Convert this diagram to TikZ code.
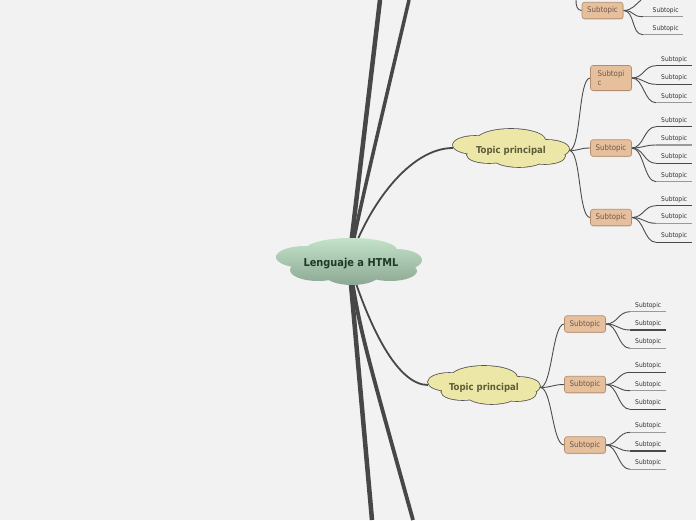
\documentclass[tikz,border=0pt]{standalone}
\usepackage{fontspec}
\setmainfont{DejaVu Sans Condensed}
\usetikzlibrary{shadows}
\pgfdeclarelayer{back}
\pgfdeclarelayer{clouds}
\pgfsetlayers{back,clouds,main}
\definecolor{bg}{HTML}{F2F2F2}
\definecolor{cloudtop}{HTML}{C4E2C9}
\definecolor{cloudbot}{HTML}{8CA894}
\definecolor{centraltext}{HTML}{1E3A26}
\definecolor{topicfill}{HTML}{ECE7A6}
\definecolor{topicline}{HTML}{555555}
\definecolor{topictext}{HTML}{5E5B3A}
\definecolor{subfill}{HTML}{E6C09C}
\definecolor{subline}{HTML}{B48C6C}
\definecolor{subtext}{HTML}{6E5848}
\definecolor{leaftext}{HTML}{333333}
\definecolor{trunkcol}{HTML}{474747}
\definecolor{twigcol}{HTML}{4D4D4D}
\definecolor{uldark}{HTML}{4A4A4A}
\definecolor{ullight}{HTML}{999999}
\def\centrallobes{(2,-12) ellipse [x radius=46, y radius=12]
  (-44,-5) ellipse [x radius=29, y radius=11]
  (47,-2) ellipse [x radius=26, y radius=11]
  (-31,8) ellipse [x radius=28, y radius=11]
  (3,12) ellipse [x radius=28, y radius=11]
  (41,9) ellipse [x radius=27, y radius=10]
  (0,0) ellipse [x radius=52, y radius=14]}
\def\topiclobes{(0,-8) ellipse [x radius=34, y radius=11]
  (-36,-3) ellipse [x radius=22, y radius=9]
  (36,1) ellipse [x radius=22, y radius=9]
  (-22,7) ellipse [x radius=22, y radius=8]
  (8,10) ellipse [x radius=26, y radius=9]
  (34,8) ellipse [x radius=20, y radius=8]
  (0,0) ellipse [x radius=45, y radius=13]}
\begin{document}
\begin{tikzpicture}[x=1pt,y=-1pt,
  central/.style={rectangle, inner sep=0pt, minimum width=146pt, minimum height=48pt,
    font=\bfseries\fontsize{10.9}{12}\selectfont, text=centraltext},
  topic/.style={rectangle, inner sep=0pt, minimum width=116pt, minimum height=38pt,
    font=\bfseries\fontsize{9.5}{11}\selectfont, text=topictext},
  subbox/.style={rectangle, rounded corners=2.5pt, draw=subline, line width=0.6pt,
    fill=subfill, minimum width=41pt, minimum height=16.5pt, inner sep=1pt,
    font=\fontsize{7.8}{9}\selectfont, text=subtext,
    drop shadow={opacity=0.25, shadow xshift=0.6pt, shadow yshift=-0.9pt}},
  leaf/.style={anchor=south west, minimum width=36pt, inner xsep=0pt, inner ysep=3pt,
    text height=4.8pt, text depth=1.3pt, font=\fontsize{6.6}{8}\selectfont, text=leaftext},
  trunk/.style={draw=trunkcol, line cap=butt},
  twig/.style={draw=twigcol, line width=0.9pt},
  uldk/.style={draw=uldark, line width=1.3pt},
  ullt/.style={draw=ullight, line width=1.3pt}
]
\useasboundingbox (0,0) rectangle (696,520);

% clouds (shapes)
\begin{pgfonlayer}{clouds}
\begin{scope}[shift={(349,262)}]
  \shade[top color=cloudtop, bottom color=cloudbot] \centrallobes;
\end{scope}
\begin{scope}[shift={(511,148)}]
  \draw[topicline, line width=1.6pt] \topiclobes;
  \fill[topicfill] \topiclobes;
\end{scope}
\begin{scope}[shift={(484,385)}, xscale=0.966]
  \draw[topicline, line width=1.6pt] \topiclobes;
  \fill[topicfill] \topiclobes;
\end{scope}
\end{pgfonlayer}

% nodes
\node[central] (c) at (351,264) {Lenguaje a HTML};
\node[topic] (t1) at (511,150.5) {Topic principal};
\node[topic, minimum width=112pt] (t2) at (484,387.5) {Topic principal};

\node[subbox] (s0) at (602.5,10.5) {Subtopic};
\node[subbox, minimum height=25pt, align=left] (s1) at (611,78) {Subtopi\\c};
\node[subbox] (s2) at (611,148) {Subtopic};
\node[subbox] (s3) at (611,217.5) {Subtopic};
\node[subbox] (u1) at (585,324) {Subtopic};
\node[subbox] (u2) at (585,384.5) {Subtopic};
\node[subbox] (u3) at (585,445) {Subtopic};

% leaves
\node[leaf, minimum width=40pt] (l01) at (643,16.7) {\hspace*{5pt}Subtopic};
\node[leaf, minimum width=40pt] (l02) at (643,34.7) {\hspace*{5pt}Subtopic};
\node[leaf] (l11) at (656,65.7) {Subtopic};
\node[leaf] (l12) at (656,84.3) {Subtopic};
\node[leaf] (l13) at (656,102.7) {Subtopic};
\node[leaf] (l21) at (656,126.7) {Subtopic};
\node[leaf] (l22) at (656,145) {Subtopic};
\node[leaf] (l23) at (656,163.3) {Subtopic};
\node[leaf] (l24) at (656,181.7) {Subtopic};
\node[leaf] (l31) at (656,205.7) {Subtopic};
\node[leaf] (l32) at (656,223.3) {Subtopic};
\node[leaf] (l33) at (656,242.3) {Subtopic};
\node[leaf] (m11) at (630,311.7) {Subtopic};
\node[leaf] (m12) at (630,330) {Subtopic};
\node[leaf] (m13) at (630,348.3) {Subtopic};
\node[leaf] (m21) at (630,372.3) {Subtopic};
\node[leaf] (m22) at (630,390.7) {Subtopic};
\node[leaf] (m23) at (630,409.3) {Subtopic};
\node[leaf] (m31) at (630,432.3) {Subtopic};
\node[leaf] (m32) at (630,451) {Subtopic};
\node[leaf] (m33) at (630,469.3) {Subtopic};

\coordinate (o) at (349,262);
\coordinate (e1) at (380,0);
\coordinate (e2) at (409,0);
\coordinate (e4) at (372,520);
\coordinate (e5) at (413,520);
\coordinate (e0a) at (576,0);
\coordinate (e0b) at (641,0);
\coordinate (t1w) at (453,148);
\coordinate (t2w) at (428,385);

\begin{pgfonlayer}{back}
\fill[bg] (0,0) rectangle (696,520);
% trunks
\draw[trunk, line width=4.5pt] (o) -- (e1);
\draw[trunk, line width=3.5pt] (o) .. controls (362,200) .. (e2);
\draw[trunk, line width=1.8pt] (o) .. controls (368,205) and (410,148) .. (t1w);
\draw[trunk, line width=4.5pt] (o) -- (e4);
\draw[trunk, line width=3.8pt] (o) .. controls (360,330) .. (e5);
\draw[trunk, line width=1.8pt] (o) .. controls (370,330) and (398,385) .. (t2w);
% topic -> sub
\foreach \s in {s1,s2,s3}
  \draw[twig] (t1.east) .. controls +(12,0) and +(-12,0) .. (\s.west);
\foreach \s in {u1,u2,u3}
  \draw[twig] (t2.east) .. controls +(12,0) and +(-12,0) .. (\s.west);
\draw[twig] (s0.west) .. controls +(-5,0) and (576,5) .. (e0a);
\draw[twig] (s0.east) .. controls +(9,0) and (636,4) .. (e0b);
% sub -> leaves
\foreach \s/\l/\st in {s0/l01/ullt, s0/l02/ullt,
    s1/l11/uldk, s1/l12/uldk, s1/l13/ullt,
    s2/l21/uldk, s2/l22/ullt, s2/l23/uldk, s2/l24/ullt,
    s3/l31/uldk, s3/l32/ullt, s3/l33/uldk,
    u1/m11/ullt, u1/m12/uldk, u1/m13/ullt,
    u2/m21/uldk, u2/m22/ullt, u2/m23/uldk,
    u3/m31/ullt, u3/m32/uldk, u3/m33/ullt} {
  \draw[twig] (\s.east) .. controls +(12,0) and +(-12,0) .. (\l.south west);
  \draw[\st] (\l.south west) -- (\l.south east);
}
\end{pgfonlayer}
\end{tikzpicture}
\end{document}
